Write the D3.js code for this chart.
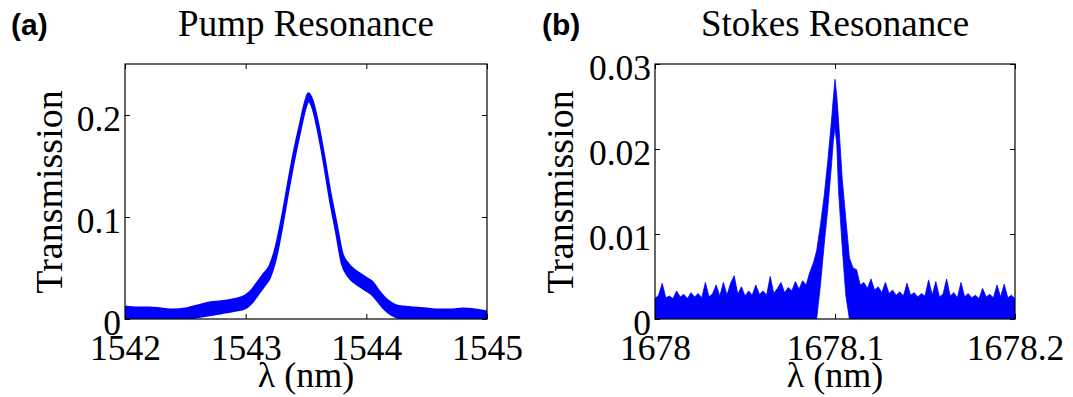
<!DOCTYPE html>
<html>
<head>
<meta charset="utf-8">
<script src="https://cdnjs.cloudflare.com/ajax/libs/d3/7.8.5/d3.min.js"></script>
<style>
  body { margin: 0; background: #fff; }
</style>
</head>
<body>
<script>
// ---- panel (a): pump resonance, band = [lo, hi] envelope of the trace
const pumpWl = [1542.00, 1542.10, 1542.20, 1542.30, 1542.40, 1542.50, 1542.60, 1542.70, 1542.80, 1542.90,
  1543.00, 1543.05, 1543.10, 1543.15, 1543.20, 1543.25, 1543.30, 1543.35, 1543.40, 1543.45,
  1543.50, 1543.52, 1543.55, 1543.60, 1543.65, 1543.70, 1543.75, 1543.80, 1543.85, 1543.90,
  1543.95, 1544.00, 1544.05, 1544.10, 1544.15, 1544.20, 1544.25, 1544.30, 1544.40, 1544.50,
  1544.60, 1544.70, 1544.80, 1544.90, 1545.00];
const pumpLo = [0.001, 0.001, 0.000, 0.000, 0.000, 0.000, 0.002, 0.004, 0.006, 0.008,
  0.011, 0.016, 0.024, 0.032, 0.041, 0.060, 0.090, 0.124, 0.156, 0.184,
  0.209, 0.214, 0.209, 0.185, 0.153, 0.117, 0.086, 0.054, 0.042, 0.036,
  0.032, 0.028, 0.024, 0.017, 0.010, 0.005, 0.002, 0.001, 0.001, 0.000,
  0.000, 0.000, 0.001, 0.000, 0.000];
const pumpHi = [0.012, 0.011, 0.011, 0.010, 0.009, 0.010, 0.013, 0.016, 0.017, 0.019,
  0.023, 0.028, 0.036, 0.044, 0.052, 0.070, 0.098, 0.131, 0.163, 0.190,
  0.215, 0.221, 0.215, 0.191, 0.159, 0.124, 0.094, 0.064, 0.054, 0.048,
  0.044, 0.040, 0.036, 0.028, 0.021, 0.016, 0.013, 0.012, 0.011, 0.010,
  0.009, 0.009, 0.010, 0.009, 0.007];
const pumpXTicks = [1542, 1543, 1544, 1545];
const pumpYTicks = [0, 0.1, 0.2];

// ---- panel (b): stokes resonance
const stokesWl = [1678.000, 1678.002, 1678.004, 1678.006, 1678.008, 1678.010, 1678.012, 1678.014, 1678.016, 1678.018,
  1678.020, 1678.022, 1678.024, 1678.026, 1678.028, 1678.030, 1678.032, 1678.034, 1678.036, 1678.038,
  1678.040, 1678.042, 1678.044, 1678.046, 1678.048, 1678.050, 1678.052, 1678.054, 1678.056, 1678.058,
  1678.060, 1678.062, 1678.064, 1678.066, 1678.068, 1678.070, 1678.072, 1678.074, 1678.076, 1678.078,
  1678.080, 1678.082, 1678.084, 1678.086, 1678.088, 1678.0898, 1678.092, 1678.094, 1678.096, 1678.098,
  1678.099, 1678.100, 1678.101, 1678.102, 1678.104, 1678.106, 1678.108, 1678.110, 1678.112, 1678.114,
  1678.116, 1678.118, 1678.120, 1678.122, 1678.124, 1678.126, 1678.128, 1678.130, 1678.132, 1678.134,
  1678.136, 1678.138, 1678.140, 1678.142, 1678.144, 1678.146, 1678.148, 1678.150, 1678.152, 1678.154,
  1678.156, 1678.158, 1678.160, 1678.162, 1678.164, 1678.166, 1678.168, 1678.170, 1678.172, 1678.174,
  1678.176, 1678.178, 1678.180, 1678.182, 1678.184, 1678.186, 1678.188, 1678.190, 1678.192, 1678.194,
  1678.196, 1678.198, 1678.200];
const stokesHi = [0.0024, 0.0028, 0.0042, 0.0025, 0.0027, 0.0024, 0.0033, 0.0026, 0.0029, 0.0024,
  0.0031, 0.0026, 0.0030, 0.0025, 0.0043, 0.0026, 0.0030, 0.0040, 0.0027, 0.0043,
  0.0028, 0.0042, 0.0051, 0.0029, 0.0038, 0.0027, 0.0033, 0.0028, 0.0040, 0.0029,
  0.0033, 0.0028, 0.0050, 0.0030, 0.0036, 0.0043, 0.0031, 0.0037, 0.0033, 0.0044,
  0.0035, 0.0045, 0.0040, 0.0055, 0.0066, 0.0080, 0.0112, 0.0145, 0.0186, 0.0232,
  0.0258, 0.0282, 0.0262, 0.0232, 0.0165, 0.0118, 0.0072, 0.0060, 0.0058, 0.0040,
  0.0043, 0.0036, 0.0047, 0.0034, 0.0038, 0.0031, 0.0043, 0.0030, 0.0034, 0.0028,
  0.0032, 0.0027, 0.0042, 0.0028, 0.0031, 0.0026, 0.0030, 0.0027, 0.0046, 0.0028,
  0.0044, 0.0026, 0.0029, 0.0047, 0.0027, 0.0031, 0.0025, 0.0043, 0.0026, 0.0030,
  0.0025, 0.0028, 0.0024, 0.0036, 0.0026, 0.0029, 0.0025, 0.0040, 0.0026, 0.0041,
  0.0025, 0.0028, 0.0024];
// lower edge is 0 except inside the peak where the up/down flanks leave a gap
const stokesLo = [0, 0, 0, 0, 0, 0, 0, 0, 0, 0,
  0, 0, 0, 0, 0, 0, 0, 0, 0, 0,
  0, 0, 0, 0, 0, 0, 0, 0, 0, 0,
  0, 0, 0, 0, 0, 0, 0, 0, 0, 0,
  0, 0, 0, 0, 0, 0, 0.0042, 0.0088, 0.0130, 0.0180,
  0.0208, 0.0226, 0.0205, 0.0150, 0.0085, 0.0028, 0, 0, 0, 0,
  0, 0, 0, 0, 0, 0, 0, 0, 0, 0,
  0, 0, 0, 0, 0, 0, 0, 0, 0, 0,
  0, 0, 0, 0, 0, 0, 0, 0, 0, 0,
  0, 0, 0, 0, 0, 0, 0, 0, 0, 0,
  0, 0, 0];
const stokesXTicks = [1678, 1678.1, 1678.2];
const stokesYTicks = [0, 0.01, 0.02, 0.03];

const SERIF = '"Liberation Serif", "Times New Roman", Times, serif';
const SANS = '"Liberation Sans", Arial, sans-serif';

const W = 1073, H = 397;
const svg = d3.select("body").append("svg")
  .attr("width", W)
  .attr("height", H);

function panel(opt) {
  const x = d3.scaleLinear().domain(opt.xDomain).range([opt.left, opt.right]);
  const y = d3.scaleLinear().domain(opt.yDomain).range([319, 64]);
  const g = svg.append("g");

  g.append("clipPath").attr("id", opt.id + "clip")
    .append("rect")
    .attr("x", opt.left).attr("y", 64)
    .attr("width", opt.right - opt.left).attr("height", 255);

  const rows = opt.wl.map((w, i) => ({ w: w, lo: opt.lo[i], hi: opt.hi[i] }));
  const area = d3.area()
    .x(d => x(d.w))
    .y0(d => y(d.lo))
    .y1(d => y(d.hi))
    .curve(opt.curve);

  g.append("path")
    .datum(rows)
    .attr("clip-path", "url(#" + opt.id + "clip)")
    .attr("d", area)
    .attr("fill", "#0000ff")
    .attr("stroke", "#0000ff")
    .attr("stroke-width", opt.sw)
    .attr("stroke-linejoin", "round");

  // inward ticks on four sides, like matlab
  const bottom = g.append("g").attr("transform", "translate(0,319)")
    .call(d3.axisBottom(x).tickValues(opt.xTicks).tickSize(-5).tickFormat(d => String(d)));
  bottom.selectAll("text").attr("y", 41).attr("dy", 0);
  g.append("g").attr("transform", "translate(0,64)")
    .call(d3.axisTop(x).tickValues(opt.xTicks).tickSize(-5).tickFormat(""));
  const leftAx = g.append("g").attr("transform", "translate(" + opt.left + ",0)")
    .call(d3.axisLeft(y).tickValues(opt.yTicks).tickSize(-5).tickFormat(d => String(d)));
  leftAx.selectAll("text").attr("x", -4).attr("dy", 0).attr("y", 15.5);
  g.append("g").attr("transform", "translate(" + opt.right + ",0)")
    .call(d3.axisRight(y).tickValues(opt.yTicks).tickSize(-5).tickFormat(""));

  g.selectAll(".domain").remove();
  g.selectAll(".tick line").attr("stroke", "#000").attr("stroke-width", 1);
  g.selectAll(".tick text")
    .style("font-family", SERIF)
    .style("font-size", "35.5px")
    .attr("fill", "#000");

  g.append("rect")
    .attr("x", opt.left).attr("y", 64)
    .attr("width", opt.right - opt.left).attr("height", 255)
    .attr("fill", "none").attr("stroke", "#000").attr("stroke-width", 1.2);

  const cx = (opt.left + opt.right) / 2;
  g.append("text").attr("x", cx).attr("y", 36)
    .attr("text-anchor", "middle")
    .style("font-family", SERIF).style("font-size", "37px").text(opt.title);
  g.append("text").attr("x", cx).attr("y", 387)
    .attr("text-anchor", "middle")
    .style("font-family", SERIF).style("font-size", "36px").text("λ (nm)");
  g.append("text")
    .attr("transform", "translate(" + opt.ylabX + ",192) rotate(-90)")
    .attr("text-anchor", "middle")
    .style("font-family", SERIF).style("font-size", "38px").text("Transmission");
  g.append("text").attr("x", opt.tagX).attr("y", 35)
    .style("font-family", SANS).style("font-weight", "bold")
    .style("font-size", "30px").text(opt.tag);
}

panel({
  id: "a", left: 125, right: 487,
  xDomain: [1542, 1545], yDomain: [0, 0.25],
  wl: pumpWl, lo: pumpLo, hi: pumpHi,
  xTicks: pumpXTicks, yTicks: pumpYTicks,
  curve: d3.curveMonotoneX, sw: 2.6,
  title: "Pump Resonance", ylabX: 62, tag: "(a)", tagX: 11
});

panel({
  id: "b", left: 655, right: 1015,
  xDomain: [1678, 1678.2], yDomain: [0, 0.03],
  wl: stokesWl, lo: stokesLo, hi: stokesHi,
  xTicks: stokesXTicks, yTicks: stokesYTicks,
  curve: d3.curveLinear, sw: 0.8,
  title: "Stokes Resonance", ylabX: 573, tag: "(b)", tagX: 542
});
</script>
</body>
</html>
